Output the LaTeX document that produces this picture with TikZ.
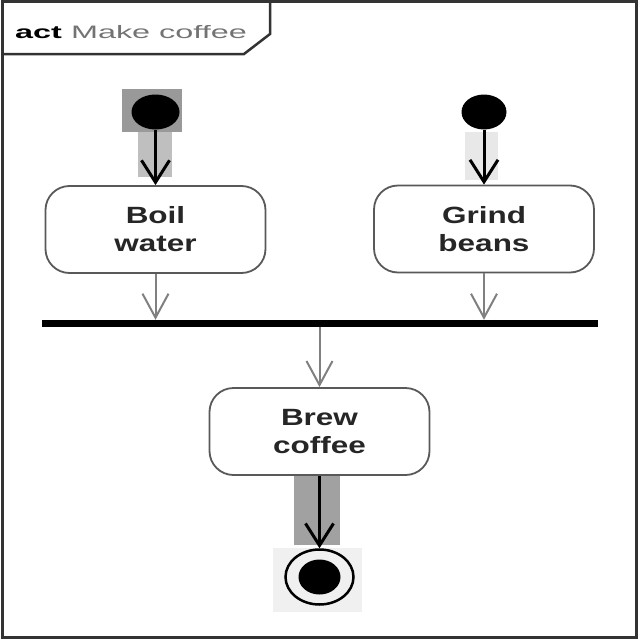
\documentclass[tikz,border=0pt]{standalone}
\usepackage{fontspec}
\setmainfont{Liberation Sans}
\newfontfamily\boxfont{Liberation Sans}[FakeStretch=1.34]
\newfontfamily\tagfont{Liberation Sans}[FakeStretch=1.8]
\usetikzlibrary{shapes.geometric,arrows.meta}
\begin{document}
\begin{tikzpicture}[x=1pt,y=-1pt,
  action/.style={draw=black!65,line width=1.8pt,rounded corners=24pt,fill=white,
    minimum width=220pt,minimum height=87pt,align=center,text=black!85,
    font=\fontsize{23.5}{28}\boxfont\bfseries},
  startdot/.style={ellipse,fill=black,inner sep=0pt,minimum width=48pt,minimum height=35pt},
  flowthick/.style={line width=3pt,-{Straight Barb[length=22pt,width=28pt]}},
  flowthin/.style={draw=black!50,line width=2pt,-{Straight Barb[length=24pt,width=26pt]}}]
\useasboundingbox (0,0) rectangle (640,640);
% highlight patches
\fill[black!40] (122,89) rectangle (182,132);
\fill[black!25] (138,132) rectangle (172,177);
\fill[black!9] (465,132) rectangle (498,180);
\fill[black!37] (294,476) rectangle (340,545);
\fill[black!6] (273,548) rectangle (362,612);
% frame and tag
\draw[line width=3pt,black!80] (2,1.5) rectangle (636.5,637);
\draw[line width=2.5pt,black!80] (2,1.5) -- (270,1.5) -- (270,34) -- (244,54) -- (2,54);
\node[anchor=base west,inner sep=0pt,font=\fontsize{18}{22}\tagfont] (title) at (15,38)
  {\textbf{act} \textcolor{black!55}{Make coffee}};
% nodes
\node[startdot] (s1) at (155.5,112) {};
\node[startdot,minimum width=45pt] (s2) at (484,112) {};
\node[action] (boil) at (155.5,229.5) {Boil\\water};
\node[action] (grind) at (484,229) {Grind\\beans};
\node[fill=black,inner sep=0pt,minimum width=556pt,minimum height=7pt] (bar) at (320,323.5) {};
\node[action] (brew) at (319.5,431.5) {Brew\\coffee};
\node[ellipse,draw,line width=2.5pt,inner sep=0pt,minimum width=68pt,minimum height=55pt] (fin) at (319.5,577) {};
\node[ellipse,fill=black,inner sep=0pt,minimum width=42pt,minimum height=35pt] (findot) at (fin) {};
% flows
\draw[flowthick] (s1.south) -- (s1.south |- boil.north);
\draw[flowthick] (s2.south) -- (s2.south |- grind.north);
\draw[flowthin] (boil.south) -- (boil.south |- bar.north);
\draw[flowthin] (grind.south) -- (grind.south |- bar.north);
\draw[flowthin] (bar.south -| brew.north) -- (brew.north);
\draw[flowthick] (brew.south) -- (fin.north);
\end{tikzpicture}
\end{document}
